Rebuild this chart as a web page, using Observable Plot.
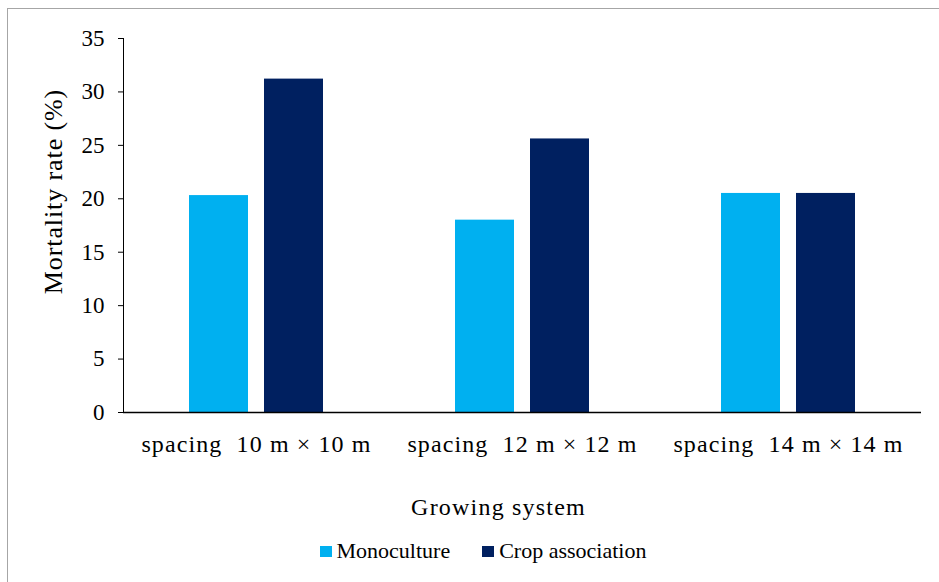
<!DOCTYPE html>
<html>
<head>
<meta charset="utf-8">
<script src="https://cdn.jsdelivr.net/npm/d3@7"></script>
<script src="https://cdn.jsdelivr.net/npm/@observablehq/plot@0.6"></script>
<style>
  html, body { margin: 0; padding: 0; background: #fff; overflow: hidden; }
  #wrap { position: relative; width: 939px; height: 582px; }
  #border { position: absolute; left: 7px; top: 8px; width: 960px; height: 600px; border: 1px solid #a6a6a6; box-sizing: border-box; }
  #chart { position: absolute; left: 0; top: 0; }
  #chart svg text { white-space: pre; }
  [aria-label="fx-axis tick label"] text { font-size: 24px; letter-spacing: 1.1px; }
  [aria-label="y-axis tick label"] text { font-size: 23px; }
  .ytitle text { font-size: 26px; letter-spacing: 0.9px; }
  .xtitle text { font-size: 24px; letter-spacing: 1.2px; }
  #legend { position: absolute; left: 0; top: 538px; width: 966px; display: flex; justify-content: center; font-family: "Liberation Serif", "Times New Roman", serif; font-size: 22px; color: #000; }
  .item { display: flex; align-items: center; margin: 0 16px; }
  .sw { width: 12px; height: 11px; margin-right: 5px; }
</style>
</head>
<body>
<div id="wrap">
  <div id="border"></div>
  <div id="chart"></div>
  <div id="legend"></div>
</div>
<script>
const groups = ["spacing  10 m × 10 m", "spacing  12 m × 12 m", "spacing  14 m × 14 m"];
const series = ["Monoculture", "Crop association"];
const monoculture = [20.3, 18.0, 20.5];
const cropAssociation = [31.2, 25.6, 20.5];
const colors = ["#00B0F0", "#002060"];
const yTicks = [0, 5, 10, 15, 20, 25, 30, 35];
const yTitle = "Mortality rate (%)";
const xTitle = "Growing system";

const data = [];
groups.forEach((g, i) => {
  data.push({group: g, series: series[0], value: monoculture[i]});
  data.push({group: g, series: series[1], value: cropAssociation[i]});
});

const plot = Plot.plot({
  width: 939,
  height: 530,
  marginTop: 38,
  marginLeft: 122,
  marginRight: 17,
  marginBottom: 118,
  style: {fontFamily: "'Liberation Serif', 'Times New Roman', serif", color: "#000", background: "transparent", overflow: "visible"},
  fx: {domain: groups, padding: 0, axis: "bottom", tickSize: 0, tickPadding: 22, label: null},
  x: {domain: series, axis: null, paddingInner: 0.21, paddingOuter: 0.86},
  y: {domain: [0, 35], ticks: yTicks, tickSize: 5, tickPadding: 14, line: true, label: null},
  color: {domain: series, range: colors},
  marks: [
    Plot.barY(data, {fx: "group", x: "series", y: "value", fill: "series"}),
    Plot.ruleY([0], {stroke: "#000", strokeWidth: 1.5}),
    Plot.text([{g: groups[0], t: yTitle}], {fx: "g", text: "t", frameAnchor: "left", textAnchor: "middle", lineAnchor: "middle", rotate: -90, dx: -70, dy: -34, fill: "#000", className: "ytitle"}),
    Plot.text([{g: groups[1], t: xTitle}], {fx: "g", text: "t", frameAnchor: "bottom", dx: -24, dy: 102, fill: "#000", className: "xtitle"})
  ]
});
document.getElementById("chart").appendChild(plot);

const legend = document.getElementById("legend");
series.forEach((s, i) => {
  const item = document.createElement("div");
  item.className = "item";
  const sw = document.createElement("div");
  sw.className = "sw";
  sw.style.background = colors[i];
  const label = document.createElement("span");
  label.textContent = s;
  item.appendChild(sw);
  item.appendChild(label);
  legend.appendChild(item);
});
</script>
</body>
</html>
